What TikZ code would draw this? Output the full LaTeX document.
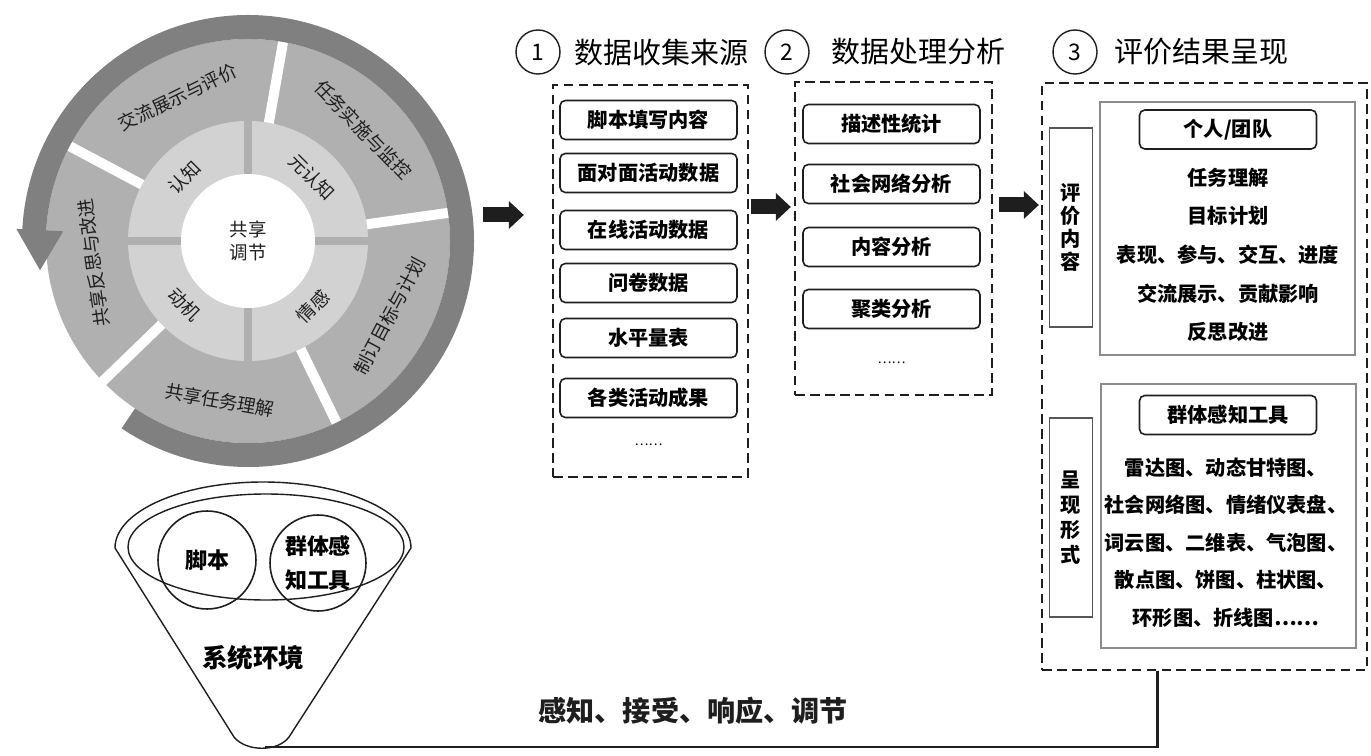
\documentclass[tikz,border=0pt]{standalone}
\usepackage{fontspec}
\setmainfont{Noto Sans CJK SC}
\usepackage{xcolor}
\usepackage{tikz}
\usetikzlibrary{arrows.meta, positioning, calc}
\definecolor{bandgray}{RGB}{128,128,128}
\definecolor{seggray}{RGB}{176,176,176}
\definecolor{ringgray}{RGB}{210,210,210}
\definecolor{framegray}{RGB}{140,140,140}
\definecolor{inkdark}{RGB}{30,30,30}

\begin{document}
\begin{tikzpicture}[
    x=0.02cm, y=0.02cm,
    wheeltext/.style={font=\fontsize{10.5}{13}\selectfont, text=inkdark, inner sep=0pt},
    funnelline/.style={draw=inkdark, line width=0.8pt},
    venn/.style={circle, draw=inkdark, line width=0.9pt, inner sep=0pt, align=center, font=\bfseries\fontsize{12.5}{19}\selectfont},
    numcirc/.style={circle, draw=inkdark, line width=0.8pt, minimum size=0.88cm, inner sep=0pt, font=\fontsize{13}{15}\selectfont},
    heading/.style={font=\fontsize{16.5}{19}\selectfont, inner sep=0pt},
    dashbox/.style={rectangle, draw=inkdark, line width=1.4pt, dash pattern=on 5.5pt off 3pt},
    itembox/.style={rectangle, rounded corners=3pt, draw=inkdark, line width=0.9pt, minimum width=3.54cm, minimum height=0.78cm, inner sep=0pt, font=\bfseries\fontsize{11.5}{13}\selectfont},
    dots/.style={font=\fontsize{7.5}{9}\selectfont},
    framebox/.style={rectangle, draw=framegray, line width=0.8pt},
    sidebox/.style={rectangle, draw=inkdark!75, line width=0.8pt, minimum width=0.86cm, minimum height=3.98cm, align=center},
    listtext/.style={align=center, inner sep=0pt, font=\bfseries\fontsize{11.5}{22}\selectfont},
    fatarrow/.style={inkdark, line width=0.3cm, -{Triangle[length=0.3cm, width=0.56cm, line width=0pt]}},
    backline/.style={inkdark, line width=1.7pt}
]
\useasboundingbox (0,0) rectangle (1371,-756);

% Regulation wheel
\node[circle, minimum size=9.04cm, inner sep=0pt] (wheel) at (248,-241) {};
\fill[seggray] (wheel.center) circle[radius=202];
\foreach \a in {80,8,-64,-136,152}
  \draw[white, line width=0.2cm] ([shift={(\a:118)}]wheel.center) -- ([shift={(\a:205)}]wheel.center);
\fill[ringgray] (wheel.center) circle[radius=120];
\draw[seggray, line width=0.16cm] ([shift={(-121,0)}]wheel.center) -- ([shift={(121,0)}]wheel.center);
\draw[seggray, line width=0.16cm] ([shift={(0,-121)}]wheel.center) -- ([shift={(0,121)}]wheel.center);
\fill[white] (wheel.center) circle[radius=67];
\fill[bandgray] ([shift={(-124:202)}]wheel.center) arc[start angle=-124, end angle=177, radius=202]
  -- ([shift={(177:185)}]wheel.center) -- ([shift={(188:210)}]wheel.center) -- ([shift={(177:232)}]wheel.center)
  -- ([shift={(177:226)}]wheel.center) arc[start angle=177, end angle=-124, radius=226] -- cycle;

% Phases and dimensions
\node[wheeltext, rotate=26] (ph1) at ([shift={(116:160)}]wheel.center) {交流展示与评价};
\node[wheeltext, rotate=-46] (ph2) at ([shift={(44:160)}]wheel.center) {任务实施与监控};
\node[wheeltext, rotate=62] (ph3) at ([shift={(-28:160)}]wheel.center) {制订目标与计划};
\node[wheeltext, rotate=-10] (ph4) at ([shift={(-100:162)}]wheel.center) {共享任务理解};
\node[wheeltext, rotate=98] (ph5) at ([shift={(188:156)}]wheel.center) {共享反思与改进};
\node[wheeltext, rotate=45] (dim1) at ([shift={(135:90)}]wheel.center) {认知};
\node[wheeltext, rotate=-45] (dim2) at ([shift={(45:90)}]wheel.center) {元认知};
\node[wheeltext, rotate=-45] (dim3) at ([shift={(225:90)}]wheel.center) {动机};
\node[wheeltext, rotate=45] (dim4) at ([shift={(-45:92)}]wheel.center) {情感};
\node[wheeltext, align=center] (core) at (wheel.center) {共享\\调节};

% System environment funnel
\draw[funnelline] (115,-548) arc[start angle=180, end angle=0, x radius=148, y radius=66] -- (289,-737) .. controls (278,-752) and (246,-752) .. (234,-737) -- cycle;
\draw[funnelline] (266,-547) ellipse[x radius=138, y radius=53];
\node[venn, minimum size=1.96cm] (script) at (207,-560) {脚本};
\node[venn, minimum size=1.92cm] (tool) at (318,-563) {群体感\\知工具};
\node[font=\bfseries\fontsize{14.5}{16}\selectfont] (env) at (253,-658) {系统环境};
\coordinate (tip) at (265,-747);

% Step 1
\node[numcirc] (n1) at (538,-52) {1};
\node[heading, right=0.26cm of n1] (h1) {数据收集来源};
\node[dashbox, minimum width=3.9cm, minimum height=7.84cm] (src) at (650.5,-281) {};
\node[itembox] (s1) at (648.5,-120) {脚本填写内容};
\node[itembox] (s2) at (648.5,-173) {面对面活动数据};
\node[itembox] (s3) at (648.5,-230) {在线活动数据};
\node[itembox] (s4) at (648.5,-283) {问卷数据};
\node[itembox] (s5) at (648.5,-338) {水平量表};
\node[itembox] (s6) at (648.5,-398) {各类活动成果};
\node[dots] (s7) at (648.5,-445) {……};

% Step 2
\node[numcirc] (n2) at (787,-52) {2};
\node[heading, right=0.42cm of n2] (h2) {数据处理分析};
\node[dashbox, minimum width=3.94cm, minimum height=6.26cm] (proc) at (893.5,-238.5) {};
\node[itembox] (p1) at (891.5,-124) {描述性统计};
\node[itembox] (p2) at (891.5,-184) {社会网络分析};
\node[itembox] (p3) at (891.5,-247) {内容分析};
\node[itembox] (p4) at (891.5,-309) {聚类分析};
\node[dots] (p5) at (891.5,-363) {……};

% Step 3
\node[numcirc] (n3) at (1075,-52) {3};
\node[heading, right=0.32cm of n3] (h3) {评价结果呈现};
\node[dashbox, minimum width=6.5cm, minimum height=11.74cm] (res) at (1204.5,-376.5) {};
\node[sidebox, font=\bfseries\fontsize{11.5}{13}\selectfont] (evalside) at (1071,-227.5) {评\\价\\内\\容};
\node[framebox, minimum width=5.1cm, minimum height=5.06cm] (evalframe) at (1227.5,-228.5) {};
\node[itembox] (evalhead) at (1228,-129.5) {个人/团队};
\node[listtext] (evallist) at (1228,-255) {任务理解\\目标计划\\表现、参与、交互、进度\\交流展示、贡献影响\\反思改进};
\node[sidebox, font=\bfseries\fontsize{11.5}{14.2}\selectfont] (showside) at (1071,-517.5) {呈\\现\\形\\式};
\node[framebox, minimum width=5.1cm, minimum height=5.28cm] (showframe) at (1228.5,-516) {};
\node[itembox] (showhead) at (1228,-415) {群体感知工具};
\node[listtext, font=\bfseries\fontsize{11.5}{21.4}\selectfont] (showlist) at (1226,-542.5) {雷达图、动态甘特图、\\社会网络图、情绪仪表盘、\\词云图、二维表、气泡图、\\散点图、饼图、柱状图、\\环形图、折线图……};

% Flow arrows
\coordinate (lvl1) at (0,-215);
\coordinate (lvl2) at (0,-207);
\coordinate (lvl3) at (0,-205);
\draw[fatarrow, shorten <=0.18cm, shorten >=0.56cm] (wheel.east |- lvl1) -- (src.west |- lvl1);
\draw[fatarrow, shorten <=0.04cm, shorten >=0.06cm] (src.east |- lvl2) -- (proc.west |- lvl2);
\draw[fatarrow, shorten <=0.12cm, shorten >=0.04cm] (proc.east |- lvl3) -- (res.west |- lvl3);

% Feedback to the environment
\draw[backline] (tip) -| ([xshift=-0.95cm]res.south) node[pos=0.24, above=0.3cm, font=\bfseries\fontsize{16}{18}\selectfont] (feedback) {感知、接受、响应、调节};
\end{tikzpicture}
\end{document}
